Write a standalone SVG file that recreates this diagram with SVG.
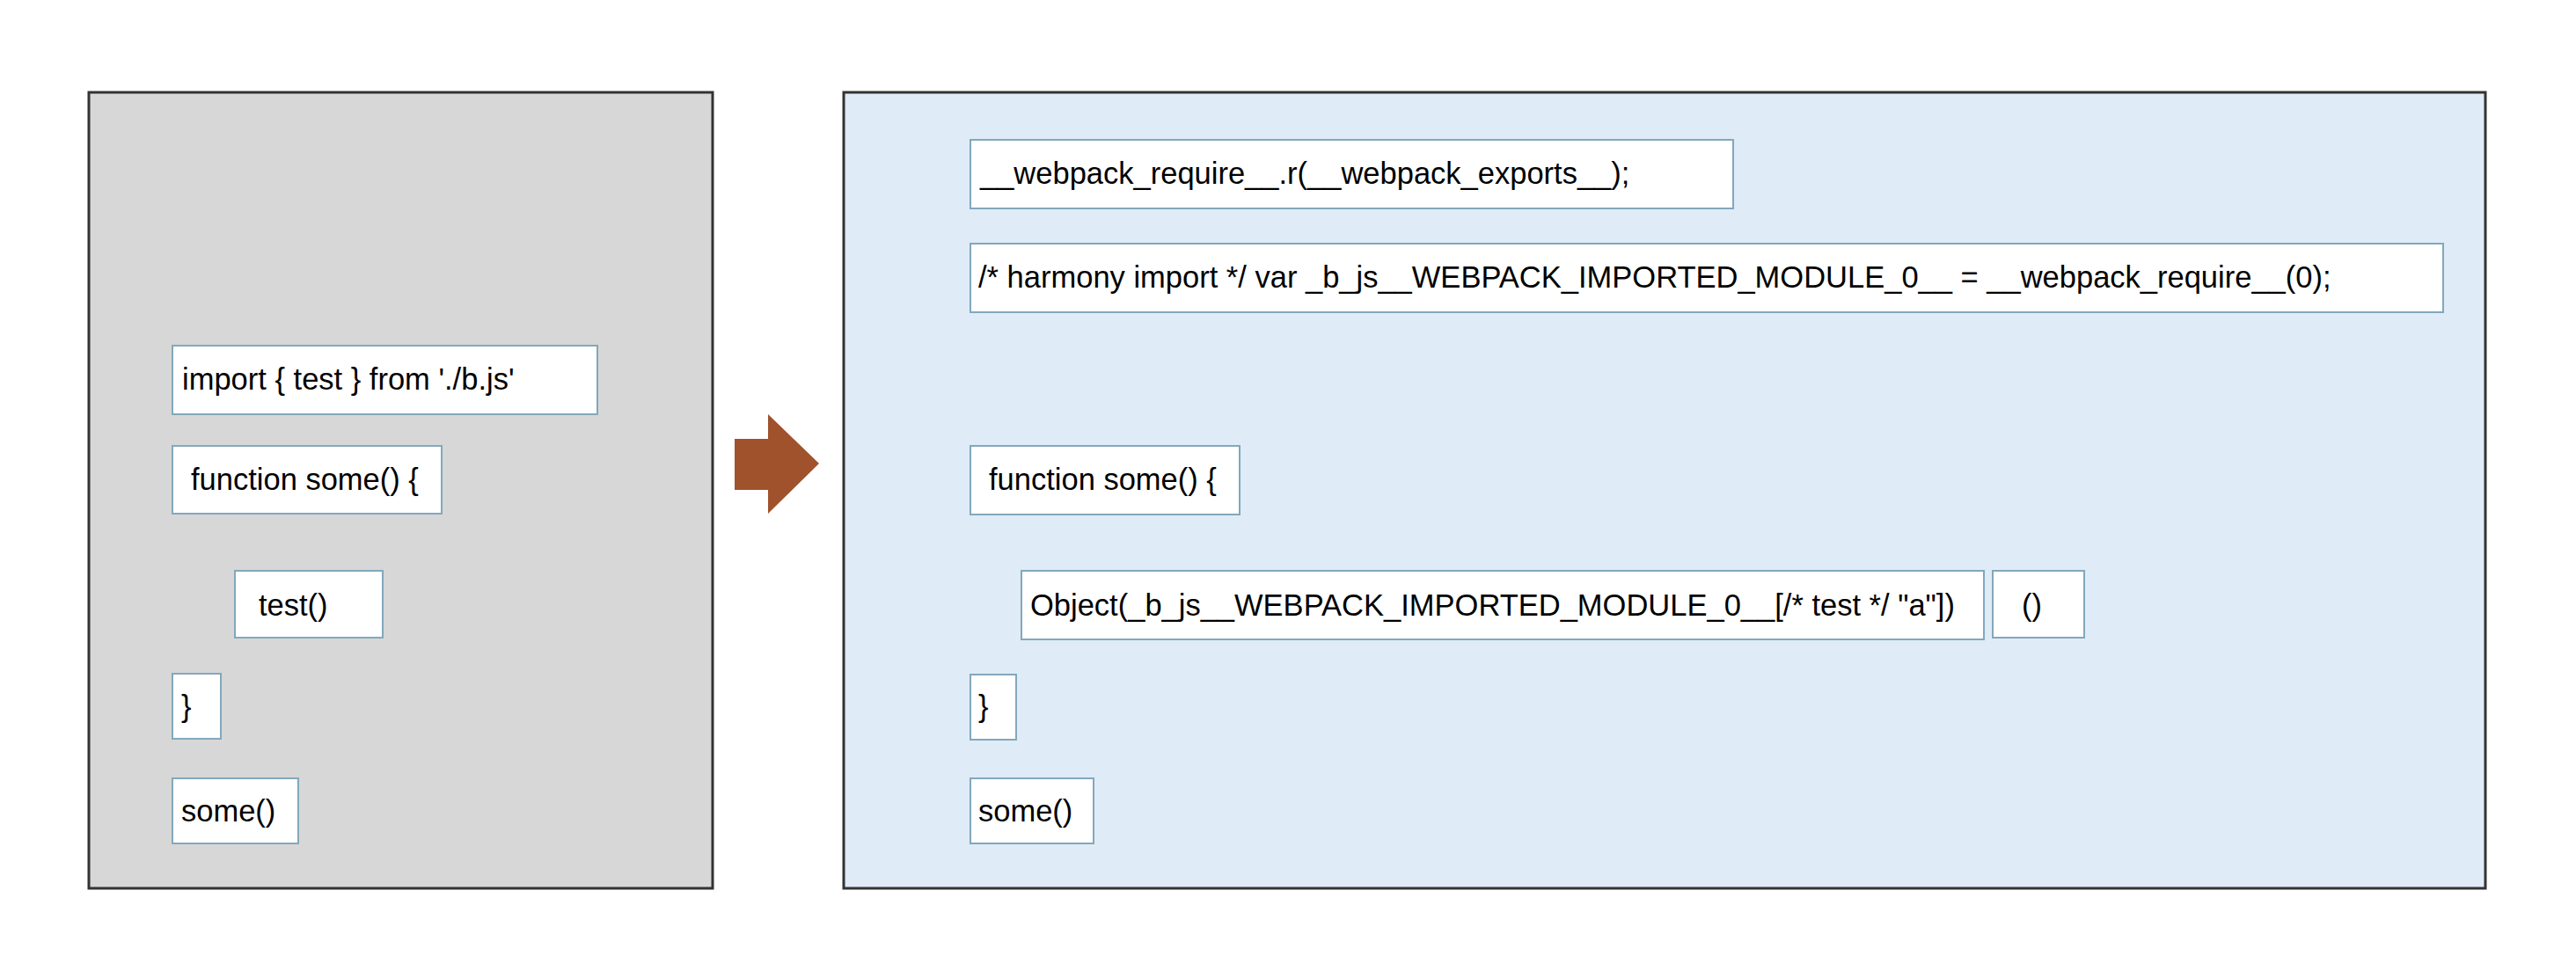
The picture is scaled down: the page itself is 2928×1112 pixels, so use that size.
<svg xmlns="http://www.w3.org/2000/svg" width="2928" height="1112" viewBox="0 0 2928 1112">
<style>
.panel{stroke:#333333;stroke-width:3}
.box{fill:#ffffff;stroke:#82A8BC;stroke-width:2}
.t{font-family:"Liberation Sans",Arial,Helvetica,sans-serif;font-size:34.5px;fill:#000000}
</style>
<rect width="2928" height="1112" fill="#ffffff"/>
<g id="panel-source">
<rect class="panel" x="101" y="105" width="709" height="905" fill="#D7D7D7"/>
</g>
<g id="panel-output">
<rect class="panel" x="959" y="105" width="1866" height="905" fill="#DFEBF7"/>
</g>
<g id="connectors">
<polygon points="835,499 873,499 873,471 931,527 873,584 873,557 835,557" fill="#A0522D"/>
</g>
<g id="src-import"><rect class="box" x="196" y="393" width="483" height="78"/><text class="t" x="207" y="443">import { test } from './b.js'</text></g>
<g id="src-function"><rect class="box" x="196" y="507" width="306" height="77"/><text class="t" x="217" y="557">function some() {</text></g>
<g id="src-test"><rect class="box" x="267" y="649" width="168" height="76"/><text class="t" x="294" y="700">test()</text></g>
<g id="src-close"><rect class="box" x="196" y="766" width="55" height="74"/><text class="t" x="206" y="815">}</text></g>
<g id="src-some"><rect class="box" x="196" y="885" width="143" height="74"/><text class="t" x="206" y="934">some()</text></g>
<g id="out-r"><rect class="box" x="1103" y="159" width="867" height="78"/><text class="t" x="1114" y="209">__webpack_require__.r(__webpack_exports__);</text></g>
<g id="out-import"><rect class="box" x="1103" y="277" width="1674" height="78"/><text class="t" x="1112" y="327">/* harmony import */ var _b_js__WEBPACK_IMPORTED_MODULE_0__ = __webpack_require__(0);</text></g>
<g id="out-function"><rect class="box" x="1103" y="507" width="306" height="78"/><text class="t" x="1124" y="557">function some() {</text></g>
<g id="out-object"><rect class="box" x="1161" y="649" width="1094" height="78"/><text class="t" x="1171" y="700">Object(_b_js__WEBPACK_IMPORTED_MODULE_0__[/* test */ "a"])</text></g>
<g id="out-call"><rect class="box" x="2265" y="649" width="104" height="76"/><text class="t" x="2298" y="700">()</text></g>
<g id="out-close"><rect class="box" x="1103" y="767" width="52" height="74"/><text class="t" x="1112" y="815">}</text></g>
<g id="out-some"><rect class="box" x="1103" y="885" width="140" height="74"/><text class="t" x="1112" y="934">some()</text></g>
</svg>
